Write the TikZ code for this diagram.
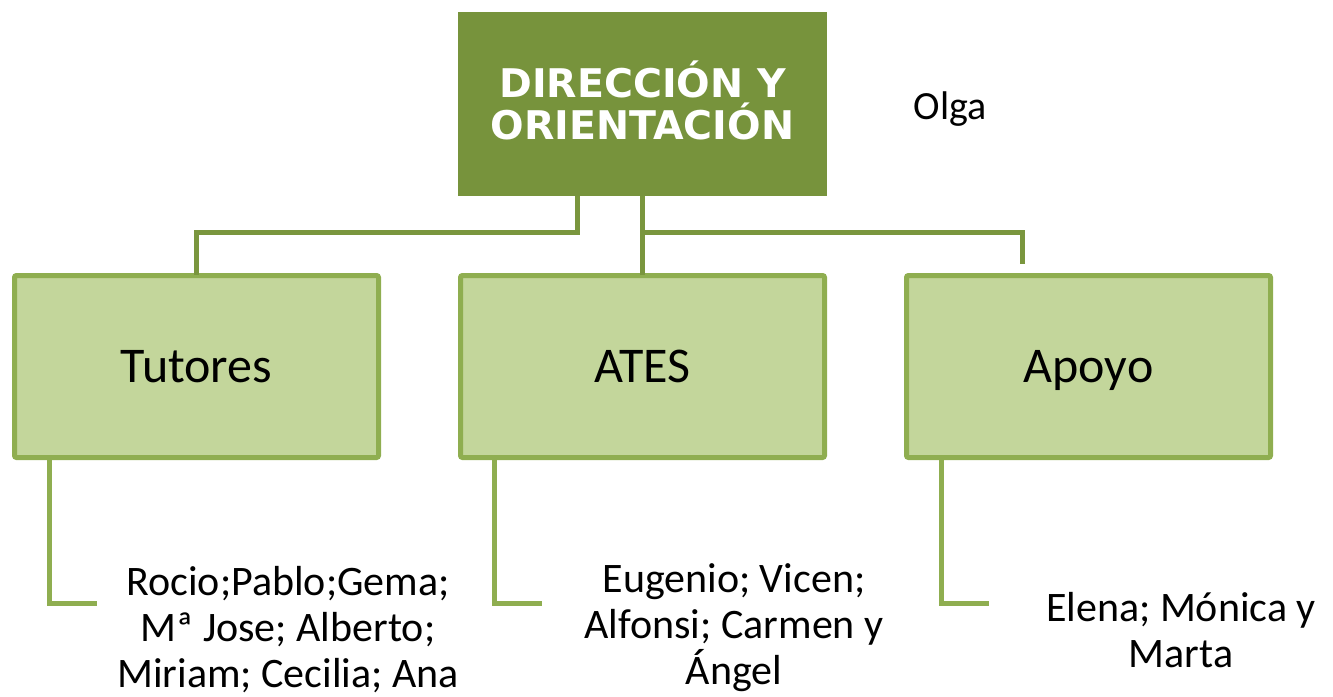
\documentclass[tikz,border=0pt]{standalone}
\usepackage{fontspec}
\setmainfont{Carlito}
\newfontfamily\titlefont{DejaVu Sans}
\definecolor{topgreen}{RGB}{119,147,60}
\definecolor{linkgreen}{RGB}{122,150,62}
\definecolor{boxfill}{RGB}{195,214,155}
\definecolor{boxline}{RGB}{143,174,80}
\begin{document}
\begin{tikzpicture}[x=1pt,y=-1pt,
  topbox/.style={rectangle,fill=topgreen,draw=none,minimum width=369pt,minimum height=184pt,inner sep=0pt},
  toptext/.style={inner sep=0pt,font=\titlefont\bfseries\fontsize{39.5}{42}\selectfont,text=white,align=center},
  childbox/.style={rectangle,rounded corners=2pt,fill=boxfill,draw=boxline,line width=5pt,
    minimum width=364pt,minimum height=182pt,inner sep=0pt,text height=32pt,text depth=0pt,
    font=\fontsize{50}{60}\selectfont},
  names/.style={align=center,inner sep=0pt,font=\fontsize{42}{46}\selectfont},
  toplink/.style={draw=linkgreen,line width=5pt},
  sublink/.style={draw=boxline,line width=5pt}]
\useasboundingbox (0,0) rectangle (1333,696);
\node[topbox] (dir) at (642.5,104) {};
\node[toptext] (dirtext) at (642.5,100) {DIRECCIÓN Y\\ORIENTACIÓN};
\node[font=\fontsize{40}{48}\selectfont,anchor=base,inner sep=0pt] (olga) at (950,119) {Olga};
\node[childbox] (tut) at (196.5,366.5) {Tutores};
\node[childbox] (ates) at (642.5,366.5) {ATES};
\node[childbox] (apoyo) at (1088.5,366.5) {Apoyo};
\node[names] (ntut) at (288,630) {Rocio;Pablo;Gema;\\Mª Jose; Alberto;\\Miriam; Cecilia; Ana};
\node[names] (nates) at (734,628) {Eugenio; Vicen;\\Alfonsi; Carmen y\\Ángel};
\node[names] (napoyo) at (1181,630) {Elena; Mónica y\\Marta};
% top connectors
\coordinate (lj) at (577,232);
\coordinate (rj) at (642,232);
\coordinate (rd) at (1022,264);
\draw[toplink] (dir.south -| lj) -- (lj) -| ([yshift=-2pt]tut.north);
\draw[toplink] (dir.south -| rj) -- ([yshift=-2pt]ates.north -| rj);
\draw[toplink] (rj) -| (rd);
% bottom connectors
\coordinate (t1) at (97,603);
\coordinate (a1) at (542,603);
\coordinate (p1) at (989,603);
\draw[sublink] (tut.south -| 49,0) |- (t1);
\draw[sublink] (ates.south -| 494,0) |- (a1);
\draw[sublink] (apoyo.south -| 941,0) |- (p1);
\end{tikzpicture}
\end{document}
